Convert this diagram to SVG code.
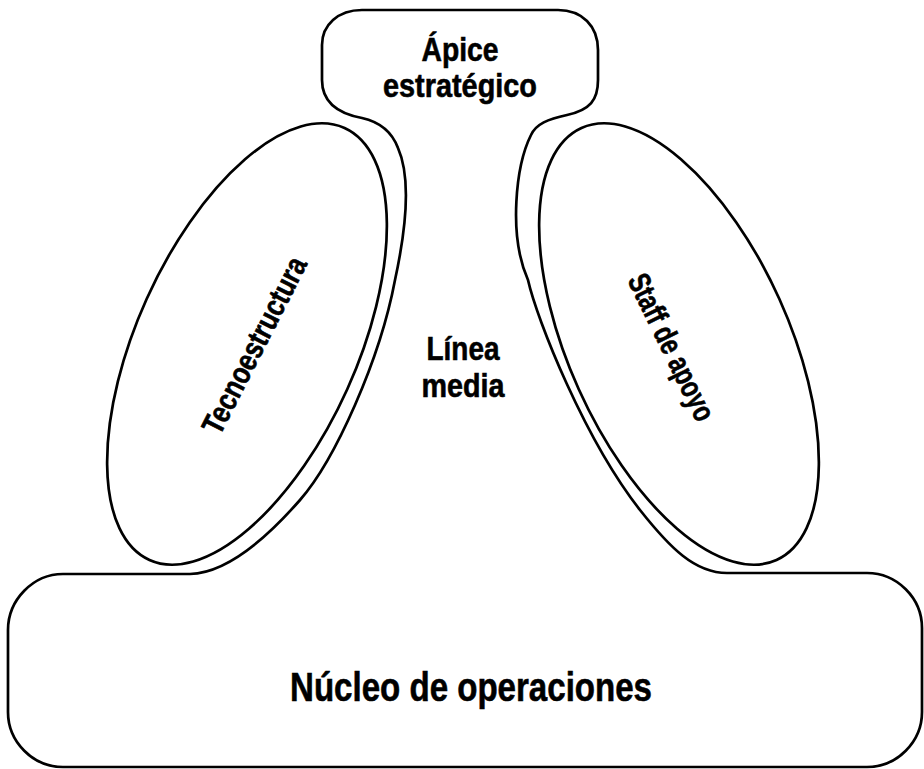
<svg xmlns="http://www.w3.org/2000/svg" width="924" height="769" viewBox="0 0 924 769">
<style>
.ln{fill:none;stroke:#000;stroke-width:2.7;stroke-linejoin:round}
.t{font-family:"Liberation Sans Narrow","Liberation Sans",Arial,sans-serif;font-weight:bold;fill:#000;stroke:#000;stroke-width:0.6;text-anchor:middle}
</style>
<rect width="924" height="769" fill="#fff"/>
<g id="outline">
<path class="ln" d="M 362,10 H 558 C 582,10 598,26 598,50 V 80 C 598,100 590,110 567,115 C 548,119 536,124 531,135 C 516,165 508,235 528,280 C 537,320 585,440 640,510 C 670,548 695,573 727,573 H 867 C 897,573 922,598 922,628 V 712 C 922,742 897,767 867,767 H 63 C 33,767 8,742 8,712 V 630 C 8,600 33,574 63,574 H 190 C 225,573 265,540 300,500 C 335,460 380,360 395,280 C 408,220 410,175 398,148 C 392,132 380,122 362,118 C 335,113 322,100 322,80 V 45 C 322,25 338,10 362,10 Z"/>
</g>
<g id="apice">
<text class="t" x="460" y="61" font-size="34" textLength="77" lengthAdjust="spacingAndGlyphs">Ápice</text>
<text class="t" x="460" y="97" font-size="34" textLength="154" lengthAdjust="spacingAndGlyphs">estratégico</text>
</g>
<g id="tecnoestructura">
<ellipse class="ln" cx="247" cy="344" rx="237" ry="110" transform="rotate(-65.7 247 344)"/>
<text class="t" font-size="31" x="0" y="11" textLength="194" lengthAdjust="spacingAndGlyphs" transform="translate(254,345) rotate(-63)">Tecnoestructura</text>
</g>
<g id="staff">
<ellipse class="ln" cx="679" cy="344" rx="237" ry="110" transform="rotate(65.7 679 344)"/>
<text class="t" font-size="31" x="0" y="11" textLength="160" lengthAdjust="spacingAndGlyphs" transform="translate(672,347) rotate(64)">Staff de apoyo</text>
</g>
<g id="linea">
<text class="t" x="463" y="360" font-size="33" textLength="73" lengthAdjust="spacingAndGlyphs">Línea</text>
<text class="t" x="463" y="397" font-size="33" textLength="83" lengthAdjust="spacingAndGlyphs">media</text>
</g>
<g id="nucleo">
<text class="t" x="471" y="701" font-size="41" textLength="362" lengthAdjust="spacingAndGlyphs">Núcleo de operaciones</text>
</g>
</svg>
